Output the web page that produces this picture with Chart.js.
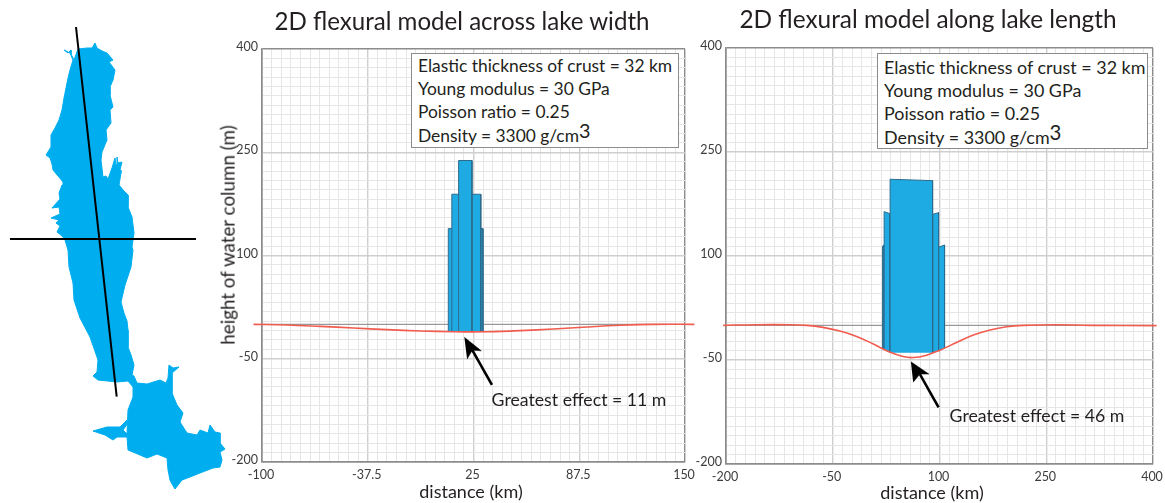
<!DOCTYPE html>
<html>
<head>
<meta charset="utf-8">
<script src="https://cdn.jsdelivr.net/npm/chart.js@4"></script>
<style>
    html, body { margin: 0; padding: 0; background: #fff; }
    #page { position: relative; width: 1165px; height: 503px; overflow: hidden; font-family: Lato, sans-serif; color: #231f20; }
    .wrap { position: absolute; top: 0; height: 503px; }
    .txt { position: absolute; white-space: nowrap; line-height: 1; }
    .box { position: absolute; background: #fff; border: 1px solid #8c8c8c; box-sizing: border-box; line-height: 23.2px; padding: 0 0 0 6px; white-space: nowrap; }
    .box sup { font-size: 1.14em; line-height: 0; vertical-align: 4px; }
</style>
</head>
<body>
<div id="page">
    <div class="wrap" style="left:0;width:230px"><canvas id="lake"></canvas></div>
    <div class="wrap" style="left:220px;width:484px"><canvas id="width"></canvas></div>
    <div class="wrap" style="left:691px;width:474px"><canvas id="length"></canvas></div>
</div>
<script>
// tick labels
const yMajors = [-200, -50, 100, 250, 400];
const widthXMajors = [-100, -37.5, 25, 87.5, 150];
const lengthXMajors = [-200, -50, 100, 250, 400];

// flexure curves
const widthCurveX = [-105, -85.2, -65.5, -45.9, -26.1, -6.4, 13.2, 20, 33, 52.7, 72.3, 92, 111.7, 131.4, 155.5];
const widthCurveY = [0, -1, -3, -5.3, -7.7, -9.6, -10.8, -11, -10.8, -9.1, -6.7, -3.8, -1.4, 0, 0];
const lengthCurveX = [-204, -157, -110.4, -87, -63.6, -40, -16.4, 7, 30, 48.8, 62.9, 81.8, 100.6, 124, 147.5, 171, 194.4, 217.8, 264.7, 311.6, 405];
const lengthCurveY = [0, 0.9, 0.9, 0, -2.9, -8.2, -16, -27, -38.5, -45, -46.5, -43, -35.8, -24.8, -14, -6.6, -2, 0, 0.9, 0, -0.4];

// water columns across the lake: [x, y] corners
const widthOuter = [[10.1, -10.5], [10.1, 139], [30.6, 139], [30.6, -10.5]];
const widthMiddle = [[12.2, -10.5], [12.2, 189], [29.3, 189], [29.3, -10.5]];
const widthCenter = [[16.2, -10.8], [16.2, 238], [24.1, 238], [24.1, -10.8]];

// water columns along the lake
const lengthOuterLeft = [[20, -34], [20, 114.4], [22.2, 116], [22.2, -35.5]];
const lengthOuterRight = [[98.7, -36.5], [98.7, 112.6], [107.1, 115.9], [107.1, -33]];
const lengthMiddleLeft = [[22.2, -35.5], [22.2, 164], [30.6, 161], [30.6, -39.5]];
const lengthMiddleRight = [[90.3, -39.5], [90.3, 160], [98.7, 162.5], [98.7, -36.5]];
const lengthCenter = [[30.6, -39.5], [30.6, 210.7], [90.3, 208.7], [90.3, -39.5]];

// arrows
const widthArrowHead = [[19.6, -18.8], [29.6, -38.5], [24.3, -37.5], [21.2, -50.5]];
const widthArrowShaft = [[24.3, -37.5], [35.9, -88]];
const lengthArrowHead = [[59.8, -52.5], [85.1, -70.3], [72.4, -70.3], [63, -82.2]];
const lengthArrowShaft = [[72.4, -70.3], [98.7, -118.3]];

// lake outline and section lines, in picture units
const lakeOutline = [
    [64, 50], [68, 53], [71, 50], [71, 54], [74, 60], [78, 49], [87, 48], [92, 48], [95, 43], [97, 48], [102, 51], [107, 53],
    [113, 60], [109, 62], [115, 70], [113, 80], [110, 87], [110, 95], [113, 107], [110, 110], [111, 123], [106, 130], [107, 140],
    [102, 152], [101, 160], [103, 177], [106, 176], [108, 179], [112, 168], [115, 158], [116, 165], [117, 157], [118, 163],
    [122, 162], [120, 170], [121, 173], [119, 185], [124, 191], [128, 195], [128, 207], [130, 212], [132, 217], [134, 233],
    [132, 247], [133, 250], [131, 267], [128, 276], [125, 285], [121, 302], [124, 313], [127, 321], [128, 330], [128, 347],
    [131, 355], [134, 365], [132, 375], [134, 376], [137, 383], [147, 384], [160, 380], [166, 383], [168, 378],
    [169, 365], [173, 368], [179, 367], [172, 373], [172, 393], [177, 405], [183, 413], [180, 422], [187, 433], [197, 435],
    [200, 430], [208, 433], [210, 425], [215, 432], [220, 433], [220, 443], [225, 449], [220, 452], [222, 460], [220, 467],
    [213, 468], [200, 473], [190, 477], [182, 480], [175, 489], [172, 484], [170, 480], [168, 470], [167, 458], [157, 454],
    [147, 458], [140, 455], [128, 450], [127, 437], [117, 437], [113, 440], [105, 435], [93, 431], [107, 427], [120, 427],
    [127, 420], [128, 423], [123, 430], [127, 434], [128, 410], [133, 397], [133, 387], [128, 381], [117, 382], [98, 380],
    [93, 376], [97, 372], [98, 360], [90, 337], [80, 318], [74, 300], [73, 283], [71, 275], [69, 267], [68, 250], [65, 240],
    [62, 236], [57, 232], [60, 226], [56, 223], [59, 220], [51, 218], [60, 214], [59, 207], [52, 208], [60, 199], [59, 193],
    [62, 185], [63, 182], [58, 176], [53, 170], [52, 164], [50, 158], [46, 155], [51, 147], [51, 135], [55, 128], [59, 120],
    [62, 110], [64, 98], [66, 88], [68, 78], [70, 70], [73, 60], [70, 53], [64, 50]
];
const lengthSection = [[76, 27], [116.7, 396.7]];
const widthSection = [[10, 239], [196, 239]];

// notes
const titleWidth = '2D flexural model across lake width';
const titleLength = '2D flexural model along lake length';
const boxLines = ['Elastic thickness of crust = 32 km', 'Young modulus = 30 GPa', 'Poisson ratio = 0.25', 'Density = 3300 g/cm<sup>3</sup>'];

const SUBDIV = 11;
const FRAME = '#8c8c8c';
const BLUE = '#1eaae2';
const RED = '#f15c4f';

const page = document.getElementById('page');

function xy(pairs) {
    return pairs.map(p => ({ x: p[0], y: p[1] }));
}

function zip(xs, ys) {
    return xs.map((x, i) => ({ x, y: ys[i] }));
}

function addText(text, cx, cy, size, rotate) {
    const el = document.createElement('div');
    el.className = 'txt';
    el.textContent = text;
    el.style.left = cx + 'px';
    el.style.top = cy + 'px';
    el.style.fontSize = size + 'px';
    el.style.transform = 'translate(-50%,-50%)' + (rotate ? ' rotate(' + rotate + 'deg)' : '');
    page.appendChild(el);
}

function addBox(left, top, w, h, size, padTop) {
    const el = document.createElement('div');
    el.className = 'box';
    el.style.left = left + 'px';
    el.style.top = top + 'px';
    el.style.width = w + 'px';
    el.style.height = h + 'px';
    el.style.fontSize = size + 'px';
    el.style.paddingTop = padTop + 'px';
    el.innerHTML = boxLines.join('<br>');
    page.appendChild(el);
}

function column(points) {
    return {
        data: xy(points), showLine: true, pointRadius: 0, tension: 0, fill: 'shape',
        backgroundColor: BLUE, borderColor: '#2d6a8c', borderWidth: 1, order: 5
    };
}

function withSub(majors) {
    const out = [];
    for (let i = 0; i < majors.length - 1; i++) {
        const step = (majors[i + 1] - majors[i]) / SUBDIV;
        for (let k = 0; k < SUBDIV; k++) out.push(majors[i] + k * step);
    }
    out.push(majors[majors.length - 1]);
    return out;
}

function axis(majors, afterFit, tickOpts) {
    const all = withSub(majors);
    return {
        type: 'linear',
        min: majors[0],
        max: majors[majors.length - 1],
        afterBuildTicks: s => { s.ticks = all.map(v => ({ value: v })); },
        afterFit,
        border: { color: FRAME, width: 1.6 },
        grid: {
            drawTicks: false,
            color: c => {
                const v = c.tick ? c.tick.value : 0;
                if (v === majors[0] || v === majors[majors.length - 1]) return FRAME;
                return majors.includes(v) ? '#cfcfcf' : '#e6e6e6';
            },
            lineWidth: c => (c.tick && majors.includes(c.tick.value) ? 1.4 : 1)
        },
        ticks: Object.assign({
            autoSkip: false,
            maxRotation: 0,
            color: '#3c3c3c',
            font: { size: 12.5, family: 'Lato, sans-serif' },
            callback: v => (majors.includes(v) ? String(v) : '')
        }, tickOpts)
    };
}

// plot rectangle is pinned: tick labels may overhang without shrinking it
function flexChart(id, xMajors, yLeft, xBottom, padding, datasets) {
    new Chart(document.getElementById(id), {
        type: 'scatter',
        data: { datasets },
        options: {
            responsive: true,
            maintainAspectRatio: false,
            animation: false,
            layout: { padding },
            plugins: { legend: { display: false }, tooltip: { enabled: false } },
            scales: {
                x: axis(xMajors, s => { s.height = xBottom; s.paddingLeft = 0; s.paddingRight = 0; }, { padding: 5, labelOffset: -1 }),
                y: axis(yMajors, s => { s.width = yLeft; s.paddingTop = 0; s.paddingBottom = 0; }, { padding: 4, labelOffset: -2 })
            }
        }
    });
}

function lineSet(points, color, width, order, extra) {
    return Object.assign({
        data: points, showLine: true, pointRadius: 0, tension: 0, fill: false,
        borderColor: color, borderWidth: width, order
    }, extra);
}

function arrowSets(head, shaft) {
    return [
        lineSet(xy(shaft), '#000', 2.6, 1),
        { data: xy(head), showLine: true, pointRadius: 0, tension: 0, fill: 'shape', backgroundColor: '#000', borderColor: '#000', borderWidth: 0.5, order: 1 }
    ];
}

function curveSet(xs, ys) {
    return lineSet(zip(xs, ys), RED, 1.6, 2, { clip: false, tension: 0.4 });
}

flexChart('width', widthXMajors, 42, 41, { top: 49, right: 19 }, [
    ...arrowSets(widthArrowHead, widthArrowShaft),
    curveSet(widthCurveX, widthCurveY),
    column(widthCenter),
    column(widthMiddle),
    column(widthOuter),
    lineSet(xy([[-100, 0], [150, 0]]), '#999', 1.2, 9)
]);

flexChart('length', lengthXMajors, 35, 39, { top: 48, right: 12 }, [
    ...arrowSets(lengthArrowHead, lengthArrowShaft),
    curveSet(lengthCurveX, lengthCurveY),
    column(lengthCenter),
    column(lengthMiddleLeft),
    column(lengthMiddleRight),
    column(lengthOuterLeft),
    column(lengthOuterRight),
    lineSet(xy([[-200, 0], [400, 0]]), '#999', 1.2, 9)
]);

new Chart(document.getElementById('lake'), {
    type: 'scatter',
    data: {
        datasets: [
            lineSet(xy(lengthSection), '#000', 2, 1),
            lineSet(xy(widthSection), '#000', 2, 1),
            { data: xy(lakeOutline), showLine: true, pointRadius: 0, tension: 0, fill: 'shape', backgroundColor: '#00aeef', borderColor: '#00aeef', borderWidth: 1, order: 2 }
        ]
    },
    options: {
        responsive: true,
        maintainAspectRatio: false,
        animation: false,
        plugins: { legend: { display: false }, tooltip: { enabled: false } },
        scales: {
            x: { type: 'linear', min: 0, max: 230, display: false },
            y: { type: 'linear', min: 0, max: 503, reverse: true, display: false }
        }
    }
});

addText(titleWidth, 462, 21, 24.1);
addText(titleLength, 928, 19, 24.4);
addBox(411, 53, 268, 95, 17.4, 0);
addBox(877, 53, 271, 96, 17.9, 2);
addText('Greatest effect = 11 m', 579, 400, 17.7);
addText('Greatest effect = 46 m', 1037, 416, 17.7);
addText('distance (km)', 471, 491, 18);
addText('distance (km)', 932, 492, 18);
addText('height of water column (m)', 228, 235, 18.8, -90);
</script>
</body>
</html>
